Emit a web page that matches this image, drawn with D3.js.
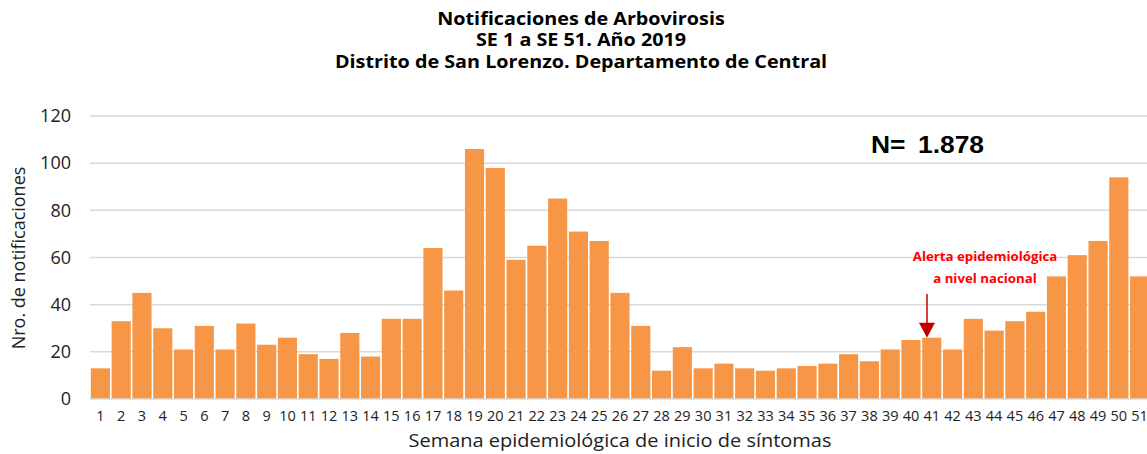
<!DOCTYPE html>
<html><head><meta charset="utf-8">
<script src="https://cdn.jsdelivr.net/npm/d3@7"></script>
<style>body{margin:0;background:#fff;} svg{display:block;font-family:"Open Sans",sans-serif;}</style>
</head><body>
<svg id="c" width="1147" height="454"></svg>
<script>
const weeks = d3.range(1, 52).map(String);
const values = [13,33,45,30,21,31,21,32,23,26,19,17,28,18,34,34,64,46,106,98,59,65,85,71,67,45,31,12,22,13,15,13,12,13,14,15,19,16,21,25,26,21,34,29,33,37,52,61,67,94,52];
const yTicks = [0,20,40,60,80,100,120];
const titleLines = ["Notificaciones de Arbovirosis","SE 1 a SE 51. Año 2019","Distrito de San Lorenzo. Departamento de Central"];
const totalLabel = "N= 1.878";
const alertLines = ["Alerta epidemiológica","a nivel nacional"];
const alertWeek = "41";

const svg = d3.select("#c");
const m = {left:90, right:1150, top:116, bottom:399};
const x = d3.scaleBand().domain(weeks).range([m.left, m.right]).paddingInner(0.08).paddingOuter(0.04);
const y = d3.scaleLinear().domain([0,120]).range([m.bottom, m.top]);

function stretchedText(g, tx, ty, sx, txt, anchor) {
  return g.append("text").attr("transform", `translate(${tx},${ty}) scale(${sx},1)`)
    .attr("text-anchor", anchor || "middle").text(txt);
}

// gridlines
svg.append("g").selectAll("line").data(yTicks.filter(d=>d>0)).join("line")
  .attr("x1", m.left).attr("x2", 1147).attr("y1", d=>y(d)).attr("y2", d=>y(d))
  .attr("stroke", "#d9d9d9").attr("stroke-width", 1.5);

// bars
svg.append("g").selectAll("rect").data(values).join("rect")
  .attr("x", (d,i)=>x(weeks[i])).attr("width", x.bandwidth())
  .attr("y", d=>y(d)).attr("height", d=>y(0)-y(d))
  .attr("fill", "#F79646");

// baseline
svg.append("line").attr("x1", m.left).attr("x2", 1147).attr("y1", y(0)).attr("y2", y(0))
  .attr("stroke", "#d9d9d9").attr("stroke-width", 1.5);

// y axis
const ya = svg.append("g").attr("transform", `translate(${m.left},0)`)
  .call(d3.axisLeft(y).tickValues(yTicks).tickSize(0).tickPadding(19));
ya.select(".domain").remove();
ya.selectAll("text").attr("font-size", 18).attr("fill", "#222").attr("font-family", "Open Sans");

// x axis
const xa = svg.append("g").attr("transform", `translate(0,${m.bottom})`)
  .call(d3.axisBottom(x).tickSize(0).tickPadding(12));
xa.select(".domain").remove();
xa.selectAll("text").attr("font-size", 14.5).attr("fill", "#222").attr("font-family", "Open Sans");

// axis titles
stretchedText(svg, 620, 447, 1.11, "Semana epidemiológica de inicio de síntomas")
  .attr("font-size", 18).attr("fill", "#222");
svg.append("text").attr("transform", "translate(25,258) rotate(-90)").attr("text-anchor", "middle")
  .attr("font-size", 18).attr("fill", "#222").text("Nro. de notificaciones");

// title
titleLines.forEach((t,i) => {
  stretchedText(svg, 581, 24.5 + i*21.8, 1.13, t)
    .attr("font-size", 17.5).attr("font-weight", "bold").attr("fill", "#000");
});

// N label
const [nPart, numPart] = totalLabel.split(" ");
stretchedText(svg, 871, 153, 1.1, nPart, "start")
  .attr("font-size", 24).attr("font-weight", "bold").attr("fill", "#000").attr("font-family", "Liberation Sans");
stretchedText(svg, 918, 153, 1.1, numPart, "start")
  .attr("font-size", 24).attr("font-weight", "bold").attr("fill", "#000").attr("font-family", "Liberation Sans");

// alert annotation
alertLines.forEach((t,i) => {
  stretchedText(svg, 985, 261 + i*22, 1.06, t)
    .attr("font-size", 12.5).attr("font-weight", "bold").attr("fill", "#ff0000");
});
const ai = weeks.indexOf(alertWeek);
const ax = x(alertWeek) + x.bandwidth()*0.25;
const tipY = y(values[ai]);
svg.append("line").attr("x1", ax).attr("x2", ax).attr("y1", 294).attr("y2", tipY-12)
  .attr("stroke", "#c00000").attr("stroke-width", 1.5);
svg.append("path").attr("d", `M${ax-8},${tipY-15} L${ax+8},${tipY-15} L${ax},${tipY} Z`).attr("fill", "#c00000");
</script>
</body></html>
